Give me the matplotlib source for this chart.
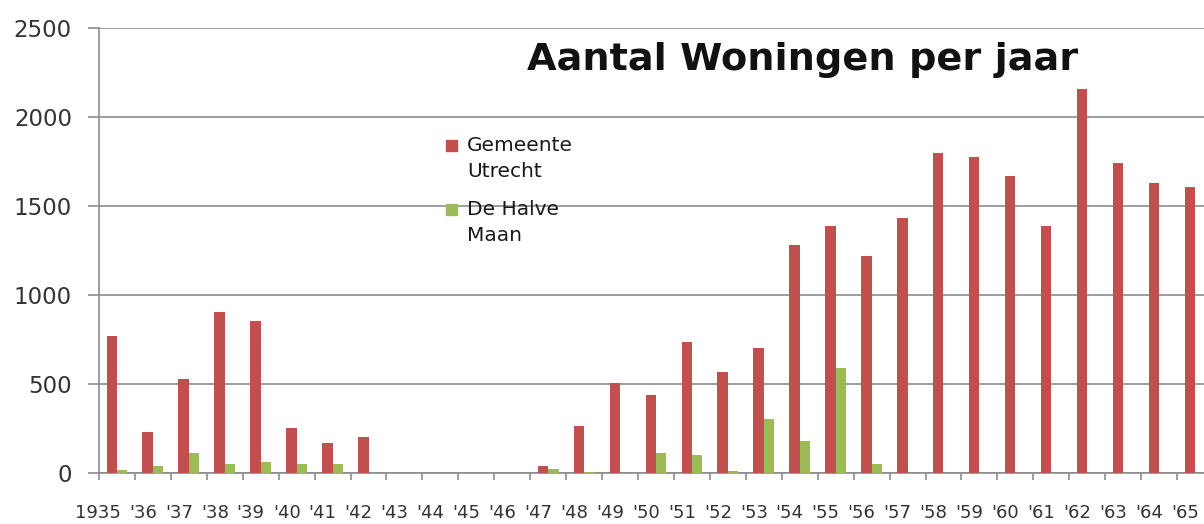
import matplotlib
matplotlib.use("Agg")
import matplotlib.pyplot as plt
from matplotlib.patches import Rectangle
from matplotlib.transforms import ScaledTranslation
import numpy as np

years = ["1935", "'36", "'37", "'38", "'39", "'40", "'41", "'42", "'43", "'44",
         "'45", "'46", "'47", "'48", "'49", "'50", "'51", "'52", "'53", "'54",
         "'55", "'56", "'57", "'58", "'59", "'60", "'61", "'62", "'63", "'64", "'65"]
utrecht = [770, 230, 528, 905, 855, 253, 168, 203, 0, 0,
           0, 0, 42, 264, 508, 438, 736, 567, 703, 1281,
           1388, 1219, 1433, 1798, 1775, 1669, 1388, 2155, 1742, 1629, 1607]
halve_maan = [15, 40, 110, 50, 62, 48, 48, 0, 0, 0,
              0, 0, 22, 5, 0, 110, 101, 10, 303, 180,
              590, 50, 0, 0, 0, 0, 0, 0, 0, 0, 0]
series_names = ["Gemeente\nUtrecht", "De Halve\nMaan"]
title = "Aantal Woningen per jaar"

RED = "#C0504D"
GREEN = "#9BBB59"
W, H = 1204, 524

fig = plt.figure(figsize=(W / 100, H / 100), dpi=100)
ax = fig.add_axes([99 / W, 1 - 473 / H, (1213 - 99) / W, (473 - 28) / H])

x = np.arange(len(years))
bw = 0.29
ax.bar(x - bw / 2, utrecht, width=bw, color=RED, zorder=3)
ax.bar(x + bw / 2, halve_maan, width=bw, color=GREEN, zorder=3)

ax.set_xlim(-0.5, len(years) - 0.5)
ax.set_ylim(0, 2500)
ax.set_yticks(np.arange(0, 2501, 500))
ax.yaxis.grid(True, color="#8c8c8c", linewidth=1.2, zorder=0)
ax.set_axisbelow(True)

ax.set_xticks(x)
ax.set_xticklabels(years, fontsize=13, color="#333333", ha="right")
ax.set_xticks(np.arange(-0.5, len(years) + 0.5, 1), minor=True)
ax.tick_params(axis="x", which="major", length=0, pad=22)
ax.tick_params(axis="x", which="minor", length=5, color="#8c8c8c", width=1.2)
ax.tick_params(axis="y", length=8, color="#8c8c8c", width=1.2, labelsize=16.5,
               labelcolor="#333333", pad=11.5)
shift = ScaledTranslation(4 / 100, 0, fig.dpi_scale_trans)
for lab in ax.get_xticklabels():
    lab.set_transform(lab.get_transform() + shift)

for s in ["top", "right"]:
    ax.spines[s].set_visible(False)
ax.spines["left"].set_color("#8c8c8c")
ax.spines["bottom"].set_color("#8c8c8c")
ax.spines["left"].set_linewidth(1.2)
ax.spines["bottom"].set_linewidth(1.2)

fig.text(803 / W, 1 - 60 / H, title, fontsize=27.5, fontweight="bold",
         ha="center", va="center", color="#111111")

# legend
colors = [RED, GREEN]
tops = [145, 209]
for name, c, ty in zip(series_names, colors, tops):
    fig.add_artist(Rectangle((446 / W, 1 - (ty + 6) / H), 11 / W, 11 / H,
                             transform=fig.transFigure, color=c))
    fig.text(467 / W, 1 - (ty - 9) / H, name, fontsize=14.5, va="top", ha="left",
             color="#1a1a1a", linespacing=1.45)

fig.savefig("out.png", dpi=100)
